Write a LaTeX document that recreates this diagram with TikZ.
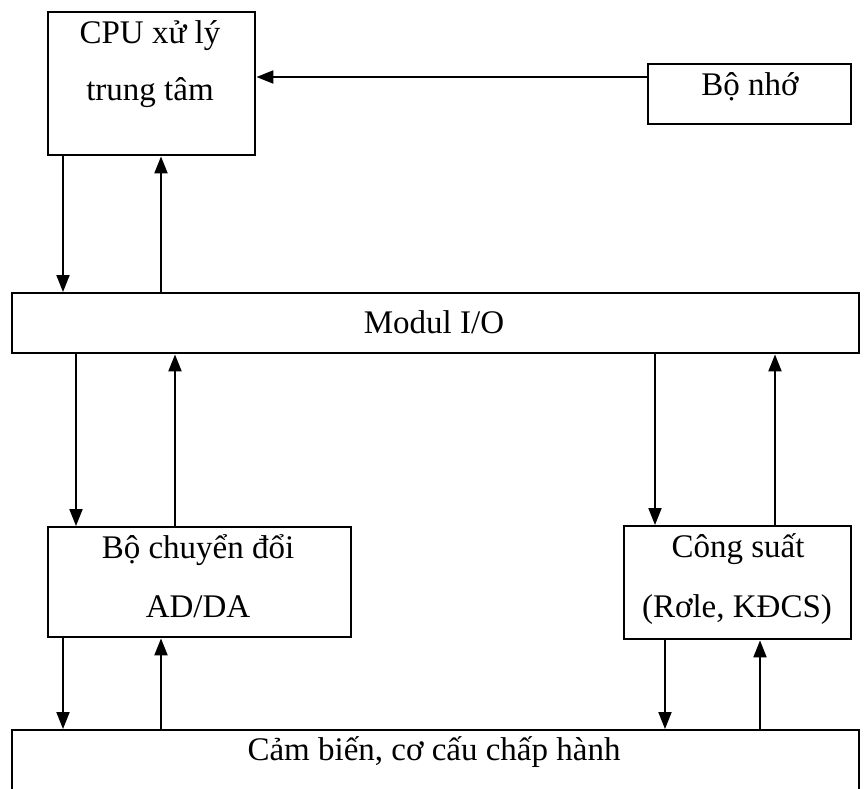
\documentclass[tikz,border=0pt]{standalone}
\usepackage{fontspec}
\setmainfont{Liberation Serif}
\usetikzlibrary{arrows.meta}
\begin{document}
\begin{tikzpicture}[x=1pt,y=-1pt,
  box/.style={draw, line width=2.4pt, inner sep=0pt, anchor=north west},
  lbl/.style={anchor=base, inner sep=0pt, font=\fontsize{33}{40}\selectfont},
  conn/.style={line width=2pt, -{Triangle[length=17pt,width=13pt]}}]
\path[use as bounding box] (0,0) rectangle (867,788);
\clip (0,0) rectangle (867,788);
% boxes
\node[box, minimum width=207pt, minimum height=143pt] (cpu) at (47,11) {};
\node[box, minimum width=203pt, minimum height=60pt] (mem) at (647,63) {};
\node[box, minimum width=847pt, minimum height=60pt] (io) at (11,292) {};
\node[box, minimum width=303pt, minimum height=110pt] (adc) at (47,526) {};
\node[box, minimum width=227pt, minimum height=113pt] (pow) at (623,525) {};
\node[box, minimum width=847pt, minimum height=80pt] (sens) at (11,729) {};
% texts
\node[lbl] (t1) at (150,43) {CPU xử lý};
\node[lbl] (t2) at (150,100) {trung tâm};
\node[lbl] (t3) at (750,95) {Bộ nhớ};
\node[lbl] (t4) at (434,333) {Modul I/O};
\node[lbl] (t5) at (198,558) {Bộ chuyển đổi};
\node[lbl] (t6) at (198,617) {AD/DA};
\node[lbl] (t7) at (738,557) {Công suất};
\node[lbl] (t8) at (737,617) {(Rơle, KĐCS)};
\node[lbl] (t9) at (434,760) {Cảm biến, cơ cấu chấp hành};
% connector positions
\coordinate (ym) at (0,77);
\coordinate (x1) at (63,0);
\coordinate (x2) at (161,0);
\coordinate (x3) at (76,0);
\coordinate (x4) at (175,0);
\coordinate (x5) at (655,0);
\coordinate (x6) at (775,0);
\coordinate (x7) at (665,0);
\coordinate (x8) at (760,0);
% connectors
\draw[conn] (mem.west |- ym) -- (cpu.east |- ym);
\draw[conn] (cpu.south -| x1) -- (io.north -| x1);
\draw[conn] (io.north -| x2) -- (cpu.south -| x2);
\draw[conn] (io.south -| x3) -- (adc.north -| x3);
\draw[conn] (adc.north -| x4) -- (io.south -| x4);
\draw[conn] (io.south -| x5) -- (pow.north -| x5);
\draw[conn] (pow.north -| x6) -- (io.south -| x6);
\draw[conn] (adc.south -| x1) -- (sens.north -| x1);
\draw[conn] (sens.north -| x2) -- (adc.south -| x2);
\draw[conn] (pow.south -| x7) -- (sens.north -| x7);
\draw[conn] (sens.north -| x8) -- (pow.south -| x8);
\end{tikzpicture}
\end{document}
